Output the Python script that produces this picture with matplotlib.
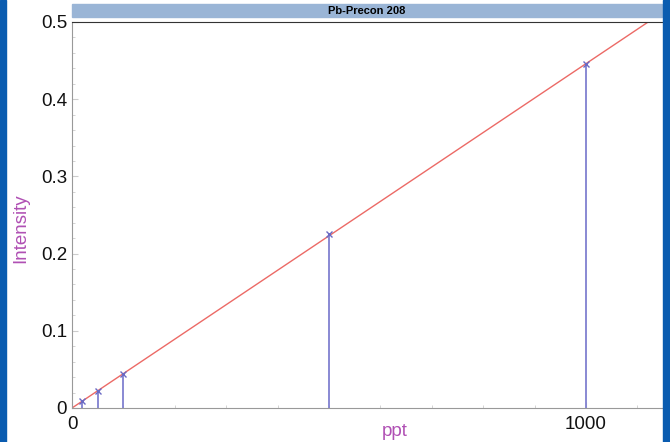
import numpy as np
import matplotlib.pyplot as plt
from matplotlib.patches import Rectangle
from matplotlib.ticker import MultipleLocator, FixedLocator, FuncFormatter

plt.rcParams['font.family'] = ['Liberation Sans', 'DejaVu Sans']

# calibration standards (ppt) and measured intensity
conc = [20, 50, 100, 500, 1000]
intensity = [0.009, 0.022, 0.044, 0.225, 0.446]
slope = 0.000446  # fitted calibration line
title = "Pb-Precon 208"

fig = plt.figure(figsize=(6.7, 4.42), dpi=100)
ax = fig.add_axes([72 / 670, 1 - 408 / 442, 590 / 670, 386 / 442])

# calibration line
xs = np.array([0, 1150])
ax.plot(xs, slope * xs, color='#ec6a66', lw=1.0, zorder=2)

# stems with x markers
ax.vlines(conc, 0, intensity, colors='#8080d0', lw=1.3, zorder=3)
ax.plot(conc, intensity, 'x', color='#6a6ac4', ms=4, mew=1.0, zorder=4)

ax.set_xlim(0, 1148)
ax.set_ylim(0, 0.5)
ax.xaxis.set_major_locator(FixedLocator([0, 1000]))
ax.xaxis.set_minor_locator(MultipleLocator(100))
ax.yaxis.set_major_locator(FixedLocator([0, 0.1, 0.2, 0.3, 0.4, 0.5]))
ax.yaxis.set_minor_locator(MultipleLocator(0.02))
ax.yaxis.set_major_formatter(FuncFormatter(lambda v, p: '%g' % round(v, 2)))

ax.spines['right'].set_visible(False)
ax.spines['left'].set_color('#999999')
ax.spines['bottom'].set_color('#999999')
ax.spines['top'].set_color('#333333')
ax.tick_params(which='both', direction='in', colors='#cccccc', labelcolor='#111111', labelsize=13.5)
ax.tick_params(which='major', length=4)
ax.tick_params(which='minor', length=2)
ax.tick_params(axis='x', pad=6)

ax.set_xlabel('ppt', color='#b050b4', fontsize=13.5)
ax.set_ylabel('Intensity', color='#b050b4', fontsize=13.5)
ax.xaxis.set_label_coords(0.547, -0.04)
ax.yaxis.set_label_coords(-0.072, 0.465)

# title bar
fig.patches.append(Rectangle((72 / 670, 1 - 17 / 442), 590 / 670, 13 / 442,
                             transform=fig.transFigure, color='#9ab5d6', zorder=0))
fig.text(367 / 670, 1 - 10.5 / 442, title, ha='center', va='center', fontsize=8, fontweight='bold')

# blue side borders
fig.patches.append(Rectangle((0, 0), 6 / 670, 1, transform=fig.transFigure, color='#0a5cb0'))
fig.patches.append(Rectangle((663 / 670, 0), 7 / 670, 1, transform=fig.transFigure, color='#0a5cb0'))

fig.savefig('out.png', dpi=100)
